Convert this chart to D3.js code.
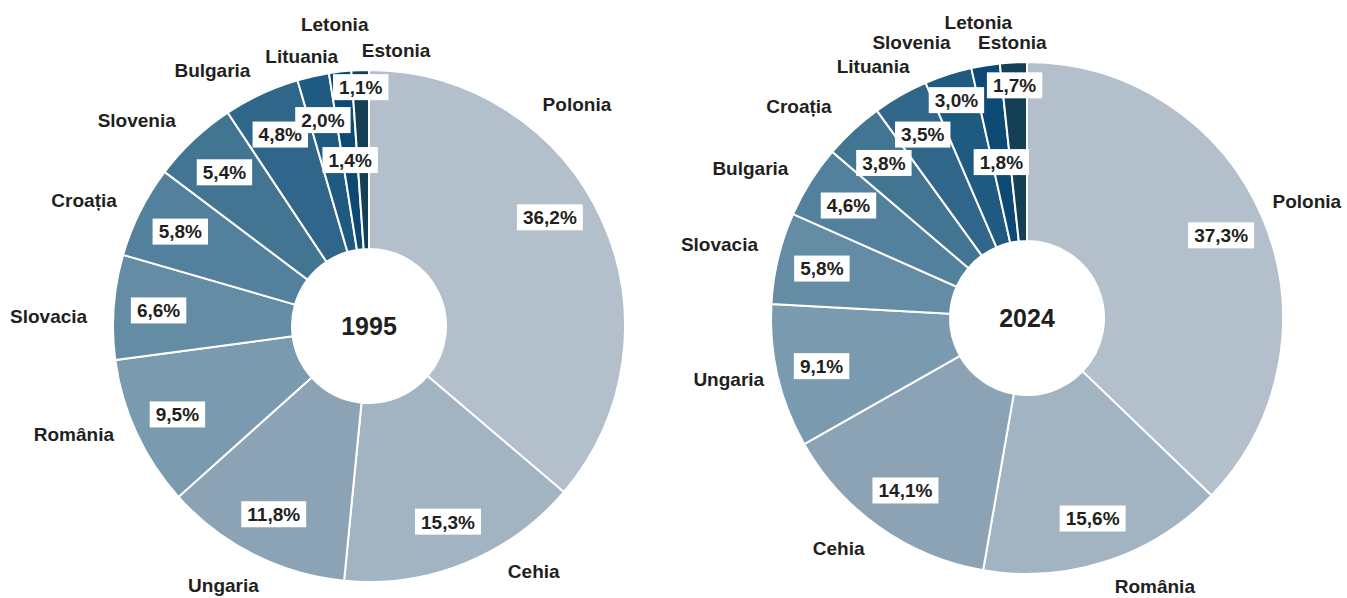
<!DOCTYPE html>
<html>
<head>
    <meta charset="utf-8">
    <title>Pondere 1995 / 2024</title>
    <script src="https://cdnjs.cloudflare.com/ajax/libs/d3/7.8.5/d3.min.js"></script>
    <style>
        body {
            margin: 0;
            background-color: #ffffff;
            overflow: hidden;
        }
        svg text {
            font-family: "Liberation Sans", Arial, sans-serif;
            fill: #231f20;
        }
        .name { font-size: 19px; font-weight: bold; }
        .pct { font-size: 19px; font-weight: bold; }
        .year { font-size: 25px; font-weight: bold; }
    </style>
</head>
<body>
<script>
// data
const countries1995 = ["Polonia", "Cehia", "Ungaria", "România", "Slovacia", "Croația", "Slovenia", "Bulgaria", "Lituania", "Letonia", "Estonia"];
const values1995 = [36.2, 15.3, 11.8, 9.5, 6.6, 5.8, 5.4, 4.8, 2.0, 1.4, 1.1];

const countries2024 = ["Polonia", "România", "Cehia", "Ungaria", "Slovacia", "Bulgaria", "Croația", "Lituania", "Slovenia", "Letonia", "Estonia"];
const values2024 = [37.3, 15.6, 14.1, 9.1, 5.8, 4.6, 3.8, 3.5, 3.0, 1.8, 1.7];

// colour goes by slice rank, light to dark
const sliceColors = ["#b3bfcb", "#a2b4c2", "#8ca3b5", "#7a9aaf", "#658ca5", "#53809d", "#427592", "#30668a", "#1f5a80", "#0c4a75", "#143f55"];

// hand nudges for crowded labels (degrees / px)
const tweaks1995 = {
    "Polonia": { pctAngle: 59, nameAngle: 38 },
    "Cehia": { nameAngle: 150.5 },
    "Ungaria": { nameAngle: 203 },
    "România": { nameAngle: 247, nameR: 277 },
    "Slovacia": { nameAngle: 272 },
    "Lituania": { nameAngle: 346, nameR: 278 },
    "Letonia": { pctR: 167, nameR: 304 },
    "Estonia": { pctR: 239, nameAngle: 5.6, nameR: 277 }
};
const tweaks2024 = {
    "Polonia": { nameAngle: 64.5, nameR: 272 },
    "Ungaria": { nameR: 270 },
    "Slovacia": { nameAngle: 285.4, nameR: 279 },
    "Croația": { nameR: 288 },
    "Lituania": { nameAngle: 335, nameR: 278 },
    "Slovenia": { pctR: 229, nameAngle: 344.5, nameR: 286 },
    "Letonia": { pctR: 158, nameR: 300 },
    "Estonia": { pctR: 233, nameR: 276 }
};

const width = 1347;
const height = 598;
const outerR = 256;
const innerR = 77;
const pctR = 211;
const nameR = 282;

const svg = d3.select("body")
    .append("svg")
    .attr("width", width)
    .attr("height", height);

const fmt = v => v.toFixed(1).replace(".", ",") + "%";
const rad = deg => deg * Math.PI / 180;
const polar = (a, r) => [r * Math.sin(a), -r * Math.cos(a)];

function drawDonut(cx, cy, countries, values, year, tweaks) {
    const data = countries.map((c, i) => ({ country: c, value: values[i], idx: i }));
    const pie = d3.pie().sort(null).value(d => d.value);
    const arc = d3.arc().innerRadius(innerR).outerRadius(outerR);
    const arcs = pie(data);

    const g = svg.append("g").attr("transform", `translate(${cx},${cy})`);

    g.selectAll("path.slice")
        .data(arcs)
        .join("path")
        .attr("class", "slice")
        .attr("d", arc)
        .attr("fill", d => sliceColors[d.data.idx])
        .attr("stroke", "#ffffff")
        .attr("stroke-width", 2);

    // percentage boxes
    arcs.forEach(d => {
        const t = tweaks[d.data.country] || {};
        const mid = (d.startAngle + d.endAngle) / 2;
        const a = t.pctAngle !== undefined ? rad(t.pctAngle) : mid;
        const [x, y] = polar(a, t.pctR || pctR);
        const lg = g.append("g").attr("transform", `translate(${x},${y})`);
        const txt = lg.append("text")
            .attr("class", "pct")
            .attr("text-anchor", "middle")
            .attr("dy", "0.36em")
            .text(fmt(d.data.value));
        const bb = txt.node().getBBox();
        lg.insert("rect", "text")
            .attr("x", -bb.width / 2 - 6)
            .attr("y", -13)
            .attr("width", bb.width + 12)
            .attr("height", 26)
            .attr("fill", "#ffffff");
    });

    // country names outside
    arcs.forEach(d => {
        const t = tweaks[d.data.country] || {};
        const mid = (d.startAngle + d.endAngle) / 2;
        const a = t.nameAngle !== undefined ? rad(t.nameAngle) : mid;
        const s = Math.sin(a);
        const anchor = s > 0.25 ? "start" : (s < -0.25 ? "end" : "middle");
        const [x, y] = polar(a, t.nameR || nameR);
        g.append("text")
            .attr("class", "name")
            .attr("x", x)
            .attr("y", y)
            .attr("dy", "0.36em")
            .attr("text-anchor", anchor)
            .text(d.data.country);
    });

    g.append("text")
        .attr("class", "year")
        .attr("text-anchor", "middle")
        .attr("dy", "0.36em")
        .text(year);
}

drawDonut(369, 326, countries1995, values1995, "1995", tweaks1995);
drawDonut(1027, 318, countries2024, values2024, "2024", tweaks2024);
</script>
</body>
</html>
